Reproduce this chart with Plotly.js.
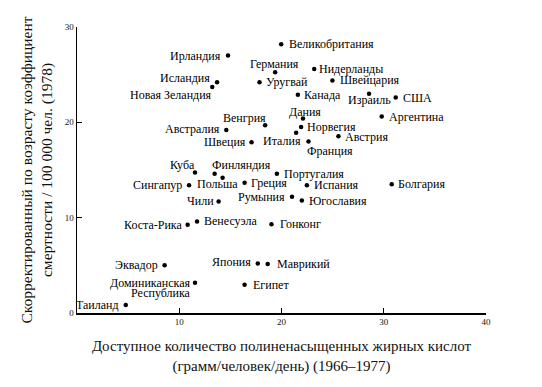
<!DOCTYPE html>
<html><head><meta charset="utf-8">
<script src="https://cdn.plot.ly/plotly-3.0.1.min.js"></script>
<style>body{margin:0;background:#fff}</style></head>
<body><div id="chart" style="width:542px;height:387px"></div>
<script>
// Data
const countries = ["Великобритания","Ирландия","Германия","Нидерланды","Исландия","Уругвай","Швейцария","Новая Зеландия","Канада","Израиль","США","Аргентина","Дания","Венгрия","Норвегия","Австралия","Италия","Франция","Швеция","Австрия","Куба","Финляндия","Польша","Португалия","Сингапур","Греция","Испания","Болгария","Румыния","Чили","Югославия","Венесуэла","Коста-Рика","Гонконг","Эквадор","Япония","Маврикий","Доминиканская|Республика","Египет","Таиланд"];
const pufa = [19.97,14.77,19.38,23.2,13.7,17.85,24.98,13.23,21.6,28.56,31.17,29.8,22.1,18.4,21.92,14.6,21.43,22.64,17.07,25.57,11.54,13.46,14.24,19.55,10.96,16.39,22.48,30.78,21.03,13.85,21.99,11.74,10.82,19.02,8.57,17.68,18.65,11.54,16.39,4.77];
const mortality = [28.2,27.0,25.25,25.6,24.2,24.2,24.4,23.7,22.9,23.0,22.6,20.6,20.4,19.7,19.5,19.2,18.9,18.0,17.9,18.55,14.75,14.6,14.2,14.6,13.4,13.67,13.4,13.5,12.2,11.7,11.8,9.6,9.27,9.3,5.0,5.2,5.15,3.18,2.97,0.84];
const xTicks = [10,20,30,40];
const yTicks = [0,10,20,30];
const xTitle = "Доступное количество полиненасыщенных жирных кислот<br>(грамм/человек/день) (1966–1977)";
const yTitle = "Скорректированный по возрасту коэффициент<br>смертности / 100 000 чел. (1978)";

// Label placement (style only): [xanchor, dx px, dy px (down positive)]
const labelPlacement = [
 ["left",6,0],["right",-5,0],["center",-1,-8],["left",3,0],["right",-5,-4],["left",4,0],["left",6,0],["right",2,8],["left",4,0],["center",0,6],
 ["left",5,0],["left",5,0],["center",2,-7],["right",3,-7.4],["left",4,0],["right",-4,-1],["right",7,8.4],["left",-3,10],["right",-4,-0.7],["left",5,1],
 ["right",2,-7.7],["left",-4.6,-9],["center",-5,6.7],["left",5,0],["right",-5,0],["left",4.7,0],["left",5,0],["left",4,0],["right",-5,0],["right",-3,0],
 ["left",5,0],["left",4.6,0],["right",-4,0],["left",6.7,0],["right",-5,0],["right",-5,-1.5],["left",7.5,0],["right",-2.4,0],["left",6.4,0],["right",-4.3,0]
];
const lineGap = 10.8;
const FONT = "Liberation Serif, Times New Roman, serif";

const annotations = [];
countries.forEach((name, i) => {
  const [anchor, dx, dy] = labelPlacement[i];
  name.split("|").forEach((line, k) => {
    annotations.push({
      x: pufa[i], y: mortality[i], xref: "x", yref: "y",
      text: line, showarrow: false,
      xanchor: anchor, yanchor: "middle",
      xshift: dx, yshift: -(dy + k * lineGap),
      font: {family: FONT, size: 12, color: "#000"}
    });
  });
});

const trace = {
  x: pufa, y: mortality, text: countries.map(c => c.replace("|", " ")),
  type: "scatter", mode: "markers",
  marker: {color: "#000", size: 4.5},
  cliponaxis: false, hoverinfo: "text"
};

const layout = {
  width: 542, height: 387,
  margin: {l: 77, r: 56, t: 27, b: 74},
  paper_bgcolor: "#fff", plot_bgcolor: "#fff",
  showlegend: false,
  font: {family: FONT, color: "#000"},
  xaxis: {
    range: [0, 40], tickvals: xTicks, ticktext: xTicks.map(String),
    showgrid: false, zeroline: false, showline: true, linecolor: "#000", linewidth: 1.5,
    ticks: "inside", ticklen: 5, tickwidth: 1.3, tickcolor: "#000",
    tickfont: {family: FONT, size: 9, color: "#111"},
    title: {text: xTitle, font: {family: FONT, size: 15, color: "#111"}, standoff: 14},
    fixedrange: true
  },
  yaxis: {
    range: [0, 30], tickvals: yTicks, ticktext: yTicks.map(String),
    showgrid: false, zeroline: false, showline: true, linecolor: "#000", linewidth: 1.5,
    ticks: "inside", ticklen: 5, tickwidth: 1.3, tickcolor: "#000",
    tickfont: {family: FONT, size: 9, color: "#111"},
    title: {text: yTitle, font: {family: FONT, size: 15.5, color: "#111"}, standoff: 8},
    fixedrange: true
  },
  annotations: annotations
};

Plotly.newPlot("chart", [trace], layout, {displayModeBar: false, staticPlot: true});
</script>
</body></html>
